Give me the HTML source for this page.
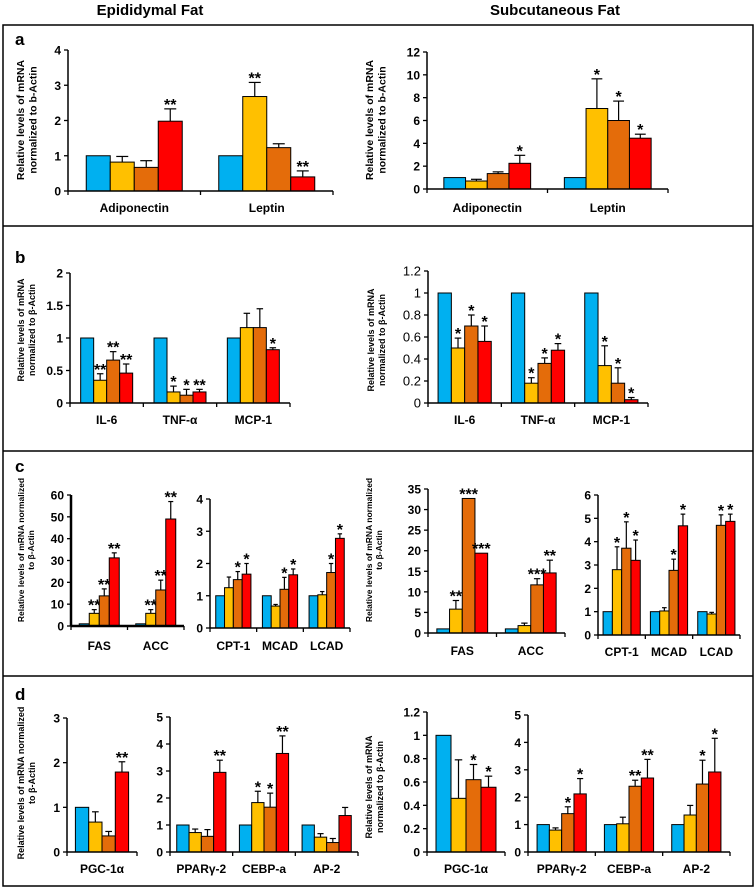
<!DOCTYPE html>
<html><head><meta charset="utf-8">
<style>
html,body{margin:0;padding:0;background:#fff;}
svg{display:block;font-family:"Liberation Sans",Arial,sans-serif;}
</style></head>
<body>
<svg id="fig" width="756" height="888" viewBox="0 0 756 888" xmlns="http://www.w3.org/2000/svg">
<rect x="0" y="0" width="756" height="888" fill="#fff"/>
<text x="150" y="15" text-anchor="middle" font-size="15" font-weight="bold">Epididymal Fat</text>
<text x="555" y="15" text-anchor="middle" font-size="15" font-weight="bold">Subcutaneous Fat</text>
<g stroke="#000" stroke-width="1.5" fill="none">
<rect x="3" y="25" width="750" height="861"/>
<line x1="3" y1="226" x2="753" y2="226"/>
<line x1="3" y1="451" x2="753" y2="451"/>
<line x1="3" y1="676" x2="753" y2="676"/>
</g>
<text x="15" y="45" font-size="17" font-weight="bold">a</text>
<text x="15" y="263" font-size="17" font-weight="bold">b</text>
<text x="15" y="472" font-size="17" font-weight="bold">c</text>
<text x="15" y="700" font-size="17" font-weight="bold">d</text>
<g id="charts"></g>
</svg>
<script>
// ---- data arrays ----
const aL_cats=["Adiponectin","Leptin"];
const aL_vals=[[1,0.82,0.67,1.98],[1,2.68,1.23,0.4]];
const aL_errs=[[1,0.98,0.86,2.33],[1,3.08,1.34,0.57]];
const aL_stars=[["","","","**"],["","**","","**"]];
const aL_ticks=[0,1,2,3,4];

const aR_cats=["Adiponectin","Leptin"];
const aR_vals=[[1,0.7,1.35,2.25],[1,7.05,6.0,4.45]];
const aR_errs=[[1,0.85,1.5,2.95],[1,9.65,7.7,4.8]];
const aR_stars=[["","","","*"],["","*","*","*"]];
const aR_ticks=[0,2,4,6,8,10,12];

const bL_cats=["IL-6","TNF-\u03b1","MCP-1"];
const bL_vals=[[1,0.35,0.66,0.46],[1,0.17,0.12,0.17],[1,1.16,1.16,0.82]];
const bL_errs=[[1,0.45,0.79,0.6],[1,0.26,0.21,0.21],[1,1.38,1.45,0.85]];
const bL_stars=[["","**","**","**"],["","*","*","**"],["","","","*"]];
const bL_ticks=[0,0.5,1,1.5,2];

const bR_cats=["IL-6","TNF-\u03b1","MCP-1"];
const bR_vals=[[1,0.5,0.7,0.56],[1,0.18,0.36,0.48],[1,0.34,0.18,0.03]];
const bR_errs=[[1,0.59,0.8,0.7],[1,0.23,0.41,0.54],[1,0.52,0.32,0.05]];
const bR_stars=[["","*","*","*"],["","*","*","*"],["","*","*","*"]];
const bR_ticks=[0,0.2,0.4,0.6,0.8,1,1.2];

const cL1_cats=["FAS","ACC"];
const cL1_vals=[[1,5.8,13.8,31.2],[1,5.8,16.5,49]];
const cL1_errs=[[1,7.5,17,33.5],[1,7.5,21,57]];
const cL1_stars=[["","**","**","**"],["","**","**","**"]];
const cL1_ticks=[0,10,20,30,40,50,60];

const cL2_cats=["CPT-1","MCAD","LCAD"];
const cL2_vals=[[1,1.25,1.5,1.67],[1,0.68,1.2,1.65],[1,1.03,1.72,2.78]];
const cL2_errs=[[1,1.58,1.75,2.0],[1,0.73,1.57,1.83],[1,1.13,2.0,2.92]];
const cL2_stars=[["","","*","*"],["","","*","*"],["","","*","*"]];
const cL2_ticks=[0,1,2,3,4];

const cR1_cats=["FAS","ACC"];
const cR1_vals=[[1,5.8,32.7,19.4],[1,1.8,11.7,14.6]];
const cR1_errs=[[1,7.9,32.7,19.4],[1,2.4,13.2,17.7]];
const cR1_stars=[["","**","***","***"],["","","***","**"]];
const cR1_ticks=[0,5,10,15,20,25,30,35];

const cR2_cats=["CPT-1","MCAD","LCAD"];
const cR2_vals=[[1,2.8,3.72,3.2],[1,1.03,2.77,4.68],[1,0.9,4.7,4.87]];
const cR2_errs=[[1,3.78,4.85,4.07],[1,1.17,3.25,5.18],[1,0.97,5.15,5.18]];
const cR2_stars=[["","*","*","*"],["","","*","*"],["","","*","*"]];
const cR2_ticks=[0,1,2,3,4,5,6];

const dL1_cats=["PGC-1\u03b1"];
const dL1_vals=[[1,0.67,0.36,1.79]];
const dL1_errs=[[1,0.9,0.46,2.02]];
const dL1_stars=[["","","","**"]];
const dL1_ticks=[0,1,2,3];

const dL2_cats=["PPAR\u03b3-2","CEBP-a","AP-2"];
const dL2_vals=[[1,0.72,0.58,2.95],[1,1.83,1.66,3.65],[1,0.55,0.35,1.35]];
const dL2_errs=[[1,0.85,0.83,3.4],[1,2.25,2.18,4.3],[1,0.68,0.5,1.65]];
const dL2_stars=[["","","","**"],["","*","*","**"],["","","",""]];
const dL2_ticks=[0,1,2,3,4,5];

const dR1_cats=["PGC-1\u03b1"];
const dR1_vals=[[1,0.46,0.62,0.555]];
const dR1_errs=[[1,0.79,0.75,0.65]];
const dR1_stars=[["","","*","*"]];
const dR1_ticks=[0,0.2,0.4,0.6,0.8,1,1.2];

const dR2_cats=["PPAR\u03b3-2","CEBP-a","AP-2"];
const dR2_vals=[[1,0.8,1.4,2.12],[1,1.03,2.4,2.7],[1,1.35,2.48,2.92]];
const dR2_errs=[[1,0.88,1.65,2.68],[1,1.27,2.62,3.38],[1,1.7,3.35,4.15]];
const dR2_stars=[["","","*","*"],["","","**","**"],["","","*","*"]];
const dR2_ticks=[0,1,2,3,4,5];

const COLORS=["#00b0f0","#ffc000","#e46c0a","#ff0000"];
const NS="http://www.w3.org/2000/svg";
const root=document.getElementById("charts");

function mk(tag,attrs,parent){
  const e=document.createElementNS(NS,tag);
  for(const k in attrs) e.setAttribute(k,attrs[k]);
  parent.appendChild(e);
  return e;
}

function chart(name,L,cats,vals,errs,stars,ticks){
  const g=mk("g",{},root);
  
  
  const ymax=ticks[ticks.length-1];
  const ys=v=>L.y0-(v/ymax)*(L.y0-L.yt);
  const gw=(L.x1-L.x0)/cats.length;
  ticks.forEach(t=>{
    const tl=mk("text",{x:L.x0-7,y:ys(t)+4.5,"text-anchor":"end","font-size":L.tf||12,"font-weight":L.tb===false?"normal":"bold"},g);
    tl.textContent=String(t);
    
    
    mk("line",{x1:L.x0-4,y1:ys(t),x2:L.x0,y2:ys(t),stroke:"#000","stroke-width":1.3},g);
  });
  cats.forEach((c,i)=>{
    const gx=L.x0+i*gw;
    const m=(gw-4*L.bw)/2;
    vals[i].forEach((v,j)=>{
      const x=gx+m+j*L.bw;
      const r=mk("rect",{x:x,y:ys(v),width:L.bw,height:L.y0-ys(v),fill:COLORS[j],stroke:"#000","stroke-width":1},g);
      
      
      const e=errs[i][j];
      if(e>v){
        const cx=x+L.bw/2;
        mk("line",{x1:cx,y1:ys(v),x2:cx,y2:ys(e),stroke:"#000","stroke-width":1.2},g);
        mk("line",{x1:cx-L.bw*0.25,y1:ys(e),x2:cx+L.bw*0.25,y2:ys(e),stroke:"#000","stroke-width":1.2},g);
      }
      const s=stars[i][j];
      if(s){
        const st=mk("text",{x:x+L.bw/2,y:ys(Math.max(e,v))+1,"text-anchor":"middle","font-size":16,"font-weight":"bold"},g);
        st.textContent=s;
        
        
      }
    });
    const cl=mk("text",{x:gx+gw/2,y:L.ly,"text-anchor":"middle","font-size":12,"font-weight":"bold"},g);
    cl.textContent=c;
    
    
  });
  for(let i=0;i<=cats.length;i++){
    const x=L.x0+i*gw;
    mk("line",{x1:x,y1:L.y0,x2:x,y2:L.y0+4,stroke:"#000","stroke-width":1.3},g);
  }
  mk("line",{x1:L.x0,y1:L.y0,x2:L.x1,y2:L.y0,stroke:"#000","stroke-width":L.aw||1.5},g);
  mk("line",{x1:L.x0,y1:L.y0,x2:L.x0,y2:L.yt,stroke:"#000","stroke-width":L.aw||1.5},g);
}

function ytitle(name,x,y,lines,fs){
  const t=mk("text",{transform:"translate("+x+","+y+") rotate(-90)","text-anchor":"middle","font-size":fs,"font-weight":"bold"},root);
  
  
  lines.forEach((l,i)=>{
    const s=mk("tspan",{x:0,dy:i===0?0:fs*1.2},t);
    s.textContent=l;
  });
}

chart("chart-a-epididymal",{x0:68,x1:333,y0:191,yt:50,bw:24,ly:212},aL_cats,aL_vals,aL_errs,aL_stars,aL_ticks);
chart("chart-a-subcutaneous",{x0:427,x1:668,y0:189,yt:52,bw:21.7,ly:212},aR_cats,aR_vals,aR_errs,aR_stars,aR_ticks);
chart("chart-b-epididymal",{x0:70,x1:290,y0:403,yt:273,bw:13,ly:424,tf:12},bL_cats,bL_vals,bL_errs,bL_stars,bL_ticks);
chart("chart-b-subcutaneous",{x0:428,x1:648,y0:403,yt:271,bw:13.3,ly:424,tb:false,tf:13},bR_cats,bR_vals,bR_errs,bR_stars,bR_ticks);
chart("chart-c-epididymal-lipogenic",{x0:71,x1:184,y0:626,yt:495,bw:10,ly:650,aw:2.5},cL1_cats,cL1_vals,cL1_errs,cL1_stars,cL1_ticks);
chart("chart-c-epididymal-oxidation",{x0:210,x1:350,y0:628,yt:499,bw:8.8,ly:650},cL2_cats,cL2_vals,cL2_errs,cL2_stars,cL2_ticks);
chart("chart-c-subcutaneous-lipogenic",{x0:428,x1:565,y0:633,yt:489,bw:12.7,ly:655},cR1_cats,cR1_vals,cR1_errs,cR1_stars,cR1_ticks);
chart("chart-c-subcutaneous-oxidation",{x0:598,x1:740,y0:635,yt:495,bw:9.3,ly:656},cR2_cats,cR2_vals,cR2_errs,cR2_stars,cR2_ticks);
chart("chart-d-epididymal-pgc",{x0:67,x1:137,y0:852,yt:718,bw:13.3,ly:873},dL1_cats,dL1_vals,dL1_errs,dL1_stars,dL1_ticks);
chart("chart-d-epididymal-adipogenic",{x0:170,x1:358,y0:852,yt:717,bw:12.3,ly:873},dL2_cats,dL2_vals,dL2_errs,dL2_stars,dL2_ticks);
chart("chart-d-subcutaneous-pgc",{x0:427,x1:505,y0:852,yt:712,bw:15,ly:873},dR1_cats,dR1_vals,dR1_errs,dR1_stars,dR1_ticks);
chart("chart-d-subcutaneous-adipogenic",{x0:528,x1:730,y0:852,yt:715,bw:12.3,ly:873},dR2_cats,dR2_vals,dR2_errs,dR2_stars,dR2_ticks);

ytitle("y-axis-title-a-left",24,120,["Relative levels of mRNA","normalized to b-Actin"],10.5);
ytitle("y-axis-title-a-right",373,120,["Relative levels of mRNA","normalized to b-Actin"],10.5);
ytitle("y-axis-title-b-left",24,330,["Relative levels of mRNA","normalized to  \u03b2-Actin"],9);
ytitle("y-axis-title-b-right",374,340,["Relative levels of mRNA","normalized to  \u03b2-Actin"],9);
ytitle("y-axis-title-c-left",24,550,["Relative levels of mRNA  normalized","to \u03b2-Actin"],8.5);
ytitle("y-axis-title-c-right",372,550,["Relative levels of mRNA  normalized","to \u03b2-Actin"],8.5);
ytitle("y-axis-title-d-left",24,783,["Relative levels of mRNA normalized","to \u03b2-Actin"],9);
ytitle("y-axis-title-d-right",372,787,["Relative levels of mRNA","normalized to \u03b2-Actin"],9);
</script>
</body></html>
